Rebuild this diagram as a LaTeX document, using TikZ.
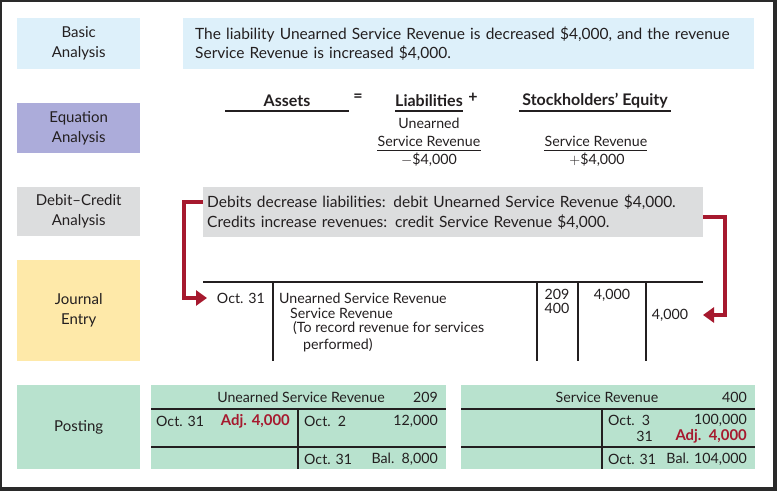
\documentclass[tikz,border=0pt]{standalone}
\usepackage{fontspec}
\setmainfont{Lato}
\usetikzlibrary{arrows.meta}
\definecolor{txt}{HTML}{231F20}
\definecolor{bluebg}{HTML}{DDF0FA}
\definecolor{lavbg}{HTML}{ACACDA}
\definecolor{graybg}{HTML}{DCDDDE}
\definecolor{yelbg}{HTML}{FEE9A9}
\definecolor{mintbg}{HTML}{B8E2CE}
\definecolor{redc}{HTML}{A6192E}
\definecolor{framec}{HTML}{2A2A2A}
\begin{document}
\begin{tikzpicture}[x=1pt,y=-1pt,
  every node/.style={font=\fontsize{14.2}{19.5}\selectfont, text=txt, inner sep=0pt},
  boldtxt/.style={font=\fontsize{16}{19.5}\selectfont\bfseries},
  bigtxt/.style={font=\fontsize{15.5}{19.5}\selectfont},
  adjtxt/.style={font=\fontsize{14.9}{19.5}\selectfont\bfseries, text=redc},
  lbox/.style={minimum width=123pt, align=center, anchor=north west, font=\fontsize{15}{20}\selectfont},
  tline/.style={draw=txt, line width=1.1pt},
  redarrow/.style={draw=redc, line width=4pt, -{Triangle[length=11pt,width=15pt]}}
]
\useasboundingbox (0,0) rectangle (777,491);
\fill[framec] (0,0) rectangle (777,491);
\fill[white] (2,2) rectangle (773,487);

% left labels
\node[lbox, fill=bluebg, minimum height=51pt] (lb1) at (17,18) {Basic\\Analysis};
\node[lbox, fill=lavbg, minimum height=50pt] (lb2) at (17,103) {Equation\\Analysis};
\node[lbox, fill=graybg, minimum height=49pt] (lb3) at (17,187) {Debit--Credit\\Analysis};
\node[lbox, fill=yelbg, minimum height=101pt] (lb4) at (17,260) {Journal\\Entry};
\node[lbox, fill=mintbg, minimum height=84pt] (lb5) at (17,385) {Posting};

% basic analysis
\node[bigtxt, anchor=north west, fill=bluebg, minimum width=571pt, minimum height=51pt,
      text width=547pt, inner xsep=12pt, align=left] (ba) at (183,18)
  {The liability Unearned Service Revenue is decreased \$4,000, and the revenue\\Service Revenue is increased \$4,000.};

% equation analysis
\node[boldtxt] (assets) at (287,101) {Assets};
\draw[tline] (225,111) -- (349,111);
\node[boldtxt] (eq) at (358,98) {=};
\node[boldtxt] (liab) at (429,101) {Liabilities};
\draw[tline] (395,111) -- (463,111);
\node[boldtxt] (plus) at (473,98) {+};
\node[boldtxt] (se) at (595,101) {Stockholders’ Equity};
\draw[tline] (519,111) -- (671,111);
\node (l1) at (429,123) {Unearned};
\node (l2) at (429,141) {Service Revenue};
\draw[tline] (377,150.5) -- (481,150.5);
\node (l3) at (429,160) {$-$\$4,000};
\node (s2) at (596,141) {Service Revenue};
\draw[tline] (544,150.5) -- (647,150.5);
\node (s3) at (597,160) {$+$\$4,000};

% debit-credit analysis
\node[bigtxt, anchor=north west, fill=graybg, minimum width=500pt, minimum height=50pt,
      text width=492pt, inner xsep=4pt, align=left] (dc) at (203,187)
  {Debits decrease liabilities: debit Unearned Service Revenue \$4,000.\\Credits increase revenues: credit Service Revenue \$4,000.};

% journal entry
\draw[tline] (203,282) -- (703,282);
\draw[tline] (273,282) -- (273,361);
\draw[tline] (537,282) -- (537,361);
\draw[tline] (578,282) -- (578,361);
\draw[tline] (646,282) -- (646,361);
\node[anchor=east] (jd) at (265,298) {Oct. 31};
\node[anchor=west] (j1) at (279,298) {Unearned Service Revenue};
\node[anchor=west] (j2) at (290,313) {Service Revenue};
\node[anchor=west] (j3) at (293,328) {(To record revenue for services};
\node[anchor=west] (j4) at (303,345) {performed)};
\node (r1) at (557,294) {209};
\node (r2) at (557,308.5) {400};
\node (dr) at (612,295) {4,000};
\node (cr) at (670,315) {4,000};

\coordinate (jl) at (207,298);
\coordinate (jr) at (703,315);
\draw[redarrow] ([yshift=10pt]dc.west) -- ++(-19,0) |- (jl);
\draw[redarrow] ([yshift=-5pt]dc.east) -- ++(22,0) |- (jr);

% posting: Unearned Service Revenue
\node[anchor=north west, fill=mintbg, minimum width=295pt, minimum height=84pt] (ta) at (151,385) {};
\draw[tline] (151,409) -- (446,409);
\draw[tline] (151,447) -- (446,447);
\draw[tline] (298,409) -- (298,469);
\node (tat) at (301,397) {Unearned Service Revenue};
\node[anchor=east] (tan) at (438,397) {209};
\node[anchor=west] (ta1) at (156,421) {Oct. 31};
\node[adjtxt, anchor=east] (ta2) at (290,421) {Adj. 4,000};
\node[anchor=west] (ta3) at (304,421) {Oct.\ \ 2};
\node[anchor=east] (ta4) at (438,421) {12,000};
\node[anchor=west] (ta5) at (304,459) {Oct. 31};
\node[anchor=east] (ta6) at (438,459) {Bal.\ \ 8,000};

% posting: Service Revenue
\node[anchor=north west, fill=mintbg, minimum width=294pt, minimum height=84pt] (tb) at (461,385) {};
\draw[tline] (461,409) -- (755,409);
\draw[tline] (461,447) -- (755,447);
\draw[tline] (602,409) -- (602,469);
\node (tbt) at (607,397) {Service Revenue};
\node[anchor=east] (tbn) at (747,397) {400};
\node[anchor=west] (tb1) at (608,420) {Oct.\ \ 3};
\node[anchor=east] (tb2) at (747,420) {100,000};
\node[anchor=east] (tb3) at (653,436) {31};
\node[adjtxt, anchor=east] (tb4) at (747,436) {Adj.\ \ 4,000};
\node[anchor=west] (tb5) at (608,459) {Oct. 31};
\node[anchor=east] (tb6) at (747,459) {Bal. 104,000};
\end{tikzpicture}
\end{document}
